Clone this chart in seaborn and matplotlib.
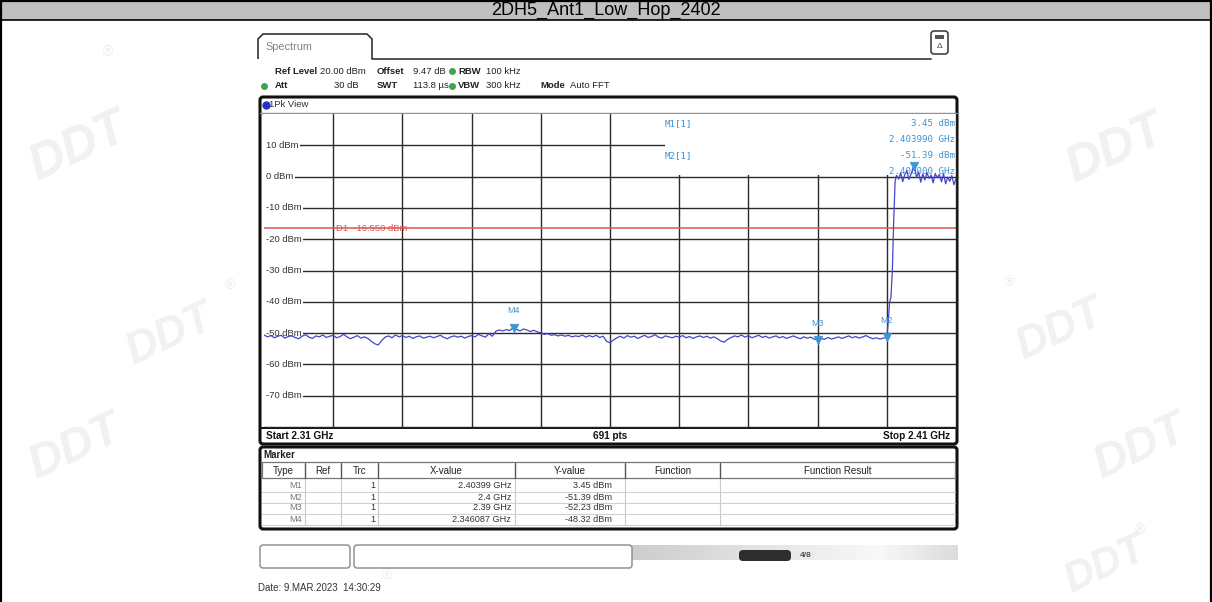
import numpy as np
import pandas as pd
import matplotlib
matplotlib.use("Agg")
import matplotlib.pyplot as plt
import seaborn as sns
from matplotlib import font_manager as fm
from matplotlib.patches import Rectangle, FancyBboxPatch, Polygon

# ---------------------------------------------------------------- data
title = "2DH5_Ant1_Low_Hop_2402"

start_ghz, stop_ghz = 2.31, 2.41
ref_level = 20.0
display_line = -16.55

# noise floor, 0.5 MHz steps from 2.3100 to 2.3995 GHz
floor_dbm = [
    -50.6, -51.2, -50.8, -51.5, -51.0, -50.7, -51.6, -51.1, -50.9, -51.4,
    -51.8, -51.0, -50.5, -51.3, -51.7, -50.9, -51.2, -50.6, -51.4, -51.0,
    -50.7, -51.5, -51.1, -50.4, -51.2, -51.8, -51.3, -50.8, -51.6, -51.2,
    -51.7, -52.6, -53.4, -53.8, -52.4, -51.3, -50.9, -51.5, -50.6, -51.2,
    -50.8, -51.4, -51.0, -51.7, -51.2, -50.9, -51.6, -51.3, -51.0, -51.5,
    -51.1, -50.7, -51.4, -51.8, -51.2, -50.9, -51.3, -51.0, -51.6, -51.1,
    -50.8, -51.2, -50.4, -50.9, -51.3, -50.2, -51.0, -49.4, -49.0, -49.3,
    -48.9, -49.2, -48.32, -48.8, -49.3, -48.7, -49.0, -49.5, -49.1, -49.6,
    -49.9, -50.4, -50.2, -50.7, -50.5, -50.9, -50.6, -51.0, -50.7, -51.2,
    -50.9, -51.1, -50.6, -51.3, -50.8, -51.2, -50.7, -51.4, -51.0, -52.6,
    -53.1, -52.2, -51.5, -51.0, -51.6, -50.8, -51.3, -51.0, -51.7, -51.2,
    -50.7, -51.4, -51.1, -50.5, -51.3, -51.6, -50.9, -51.2, -51.5, -51.0,
    -51.3, -50.8, -51.5, -51.1, -51.7, -51.2, -50.9, -51.4, -51.0, -51.6,
    -51.2, -51.8, -52.5, -52.9, -52.0, -51.4, -50.9, -51.2, -50.6, -51.3,
    -50.8, -51.5, -51.1, -50.7, -51.4, -51.0, -51.6, -51.2, -50.9, -51.5,
    -51.1, -51.7, -51.3, -50.9, -51.4, -51.8, -51.2, -51.6, -51.3, -51.9,
    -52.23, -51.7, -52.0, -51.4, -51.9, -51.6, -51.2, -51.7, -51.3, -50.9,
    -51.5, -51.1, -51.6, -51.2, -50.8, -51.4, -51.8, -51.5, -51.9, -51.6,
]
floor_step_ghz = 0.0005

# band edge and in-band part of the sweep
edge_ghz = [2.4000, 2.4002, 2.4004, 2.4006, 2.4008, 2.4010, 2.4012, 2.4014,
            2.4017, 2.4020, 2.4023, 2.4026, 2.4029, 2.4032, 2.4035, 2.4038,
            2.40399, 2.4043, 2.4046, 2.4049, 2.4052, 2.4055, 2.4058, 2.4061,
            2.4064, 2.4067, 2.4070, 2.4073, 2.4076, 2.4079, 2.4082, 2.4085,
            2.4088, 2.4091, 2.4094, 2.4097, 2.4100]
edge_dbm = [-51.39, -46.5, -40.2, -38.5, -30.0, -14.0, -1.5, 0.4,
            -0.8, 1.2, -1.6, 0.6, 1.9, -0.9, 0.8, 2.4,
            3.45, -0.3, 1.5, -1.8, 0.9, -1.1, 1.3, -0.6,
            0.5, -2.0, 1.0, -0.4, 0.7, -1.7, 0.9, -2.3,
            -0.2, -1.5, 0.3, -2.6, -0.7]

marker_names = ["M1", "M2", "M3", "M4"]
marker_ghz = [2.40399, 2.4, 2.39, 2.346087]
marker_dbm = [3.45, -51.39, -52.23, -48.32]
marker_x_text = ["2.40399 GHz", "2.4 GHz", "2.39 GHz", "2.346087 GHz"]

y_ticks = [10, 0, -10, -20, -30, -40, -50, -60, -70]
x_grid = [2.32, 2.33, 2.34, 2.35, 2.36, 2.37, 2.38, 2.39, 2.40]

table_headers = ["Type", "Ref", "Trc", "X-value", "Y-value", "Function", "Function Result"]

# ---------------------------------------------------------------- style
sns.set_theme(style="white")
names = {f.name for f in fm.fontManager.ttflist}
NARROW = "Liberation Sans Narrow" if "Liberation Sans Narrow" in names else "Liberation Sans"
plt.rcParams["font.family"] = ["Liberation Sans", "DejaVu Sans"]

TRACE = "#4545cc"
MARK = "#3a95d6"
GRID = "#2a2a2a"
RED = "#dd5555"
GREEN = "#3aa84a"

W, H = 1212, 602
fig = plt.figure(figsize=(W / 100, H / 100), dpi=100)
fig.patch.set_facecolor("white")

# full-figure pixel canvas for frames, panels and annotations
bg = fig.add_axes([0, 0, 1, 1])
bg.set_xlim(0, W)
bg.set_ylim(H, 0)
bg.axis("off")

# faint watermark logos
for (wx, wy, fs) in [(78, 148, 36), (1115, 150, 36), (170, 335, 32),
                     (1060, 330, 32), (75, 448, 34), (1140, 448, 34),
                     (1105, 565, 30)]:
    bg.text(wx, wy, "DDT", fontsize=fs, color="#f1f1f1", fontweight="bold",
            fontstyle="italic", rotation=25, ha="center", va="center", zorder=0)
for (rx, ry) in [(108, 52), (230, 285), (1010, 282), (1140, 530), (387, 575)]:
    bg.text(rx, ry, "\u00ae", fontsize=10, color="#ececec", ha="center", va="center", zorder=0)

# title band and outer border
bg.add_patch(Rectangle((0, 0), W, 20, facecolor="#c0c0c0", edgecolor="none", zorder=1))
bg.plot([0, W], [0.8, 0.8], color="black", lw=1.6, zorder=2)
bg.plot([0, W], [20, 20], color="black", lw=1.2, zorder=2)
bg.plot([0.8, 0.8], [0, H], color="black", lw=1.6, zorder=2)
bg.plot([W - 1, W - 1], [0, H], color="black", lw=1.6, zorder=2)
bg.text(W / 2, 15, title, fontsize=13, ha="center", va="baseline", color="black",
        family=["Liberation Sans", "DejaVu Sans"], zorder=3)

# instrument tab and header
tab = Polygon([(258, 59), (258, 39), (263, 34), (367, 34), (372, 39), (372, 59)],
              closed=False, fill=False, edgecolor="#333333", lw=1.2, zorder=2)
bg.add_patch(tab)
bg.plot([372, 931], [59, 59], color="#333333", lw=1.2, zorder=2)
bg.text(265, 47, "Spectrum", fontsize=7.8, color="#808080", va="center", zorder=3)
bg.add_patch(FancyBboxPatch((931, 31), 17, 23, boxstyle="round,pad=0,rounding_size=3",
                            facecolor="white", edgecolor="#333333", lw=1.1, zorder=2))
bg.add_patch(Rectangle((935, 35), 9, 4, facecolor="#555555", edgecolor="none", zorder=3))
bg.text(939.5, 46, "\u0394", fontsize=6, ha="center", va="center", color="#444444", zorder=3)

hdr = dict(fontsize=6.8, va="center", zorder=3, color="#222222")
bg.text(275, 71, "Ref Level", fontweight="bold", **hdr)
bg.text(320, 71, "20.00 dBm", **hdr)
bg.text(377, 71, "Offset", fontweight="bold", **hdr)
bg.text(413, 71, "9.47 dB", **hdr)
bg.text(458, 71, "RBW", fontweight="bold", **hdr)
bg.text(486, 71, "100 kHz", **hdr)
bg.text(275, 86, "Att", fontweight="bold", **hdr)
bg.text(359, 86, "30 dB", ha="right", **hdr)
bg.text(377, 86, "SWT", fontweight="bold", **hdr)
bg.text(413, 86, "113.8 \u00b5s", **hdr)
bg.text(458, 86, "VBW", fontweight="bold", **hdr)
bg.text(486, 86, "300 kHz", **hdr)
bg.text(540, 86, "Mode", fontweight="bold", **hdr)
bg.text(570, 86, "Auto FFT", **hdr)
for (gx, gy) in [(452, 71), (264, 86), (452, 86)]:
    bg.plot(gx, gy, "o", ms=4, color=GREEN, zorder=3)

# plot panel frame, view bar and footer row
bg.add_patch(FancyBboxPatch((260, 97), 697, 347, boxstyle="round,pad=0,rounding_size=3",
                            facecolor="white", edgecolor="#111111", lw=2.2, zorder=1))
bg.plot([260, 957], [113, 113], color="#909090", lw=1.0, zorder=2)
bg.plot(265.5, 104.5, "o", ms=5, color="#2233cc", zorder=3)
bg.text(269, 104.5, "1Pk View", fontsize=6.8, va="center", color="#333333", zorder=3)
bg.plot([260, 957], [428, 428], color="#111111", lw=1.4, zorder=2)
foot = dict(fontsize=7.2, fontweight="bold", va="center", color="#111111", zorder=3)
bg.text(266, 436, "Start 2.31 GHz", **foot)
bg.text(610, 436, "691 pts", ha="center", **foot)
bg.text(950, 436, "Stop 2.41 GHz", ha="right", **foot)

# marker table panel
bg.add_patch(FancyBboxPatch((260, 447), 697, 82, boxstyle="round,pad=0,rounding_size=3",
                            facecolor="white", edgecolor="#111111", lw=2.2, zorder=1))
bg.text(263, 455, "Marker", fontsize=7, fontweight="bold", va="center", color="#222222", zorder=3)
col_edges = [262, 305, 341, 378, 515, 625, 720, 955]
bg.add_patch(Rectangle((262, 462), 693, 16, facecolor="white", edgecolor="#777777", lw=0.9, zorder=2))
for cx in col_edges[1:-1]:
    bg.plot([cx, cx], [463, 478], color="#555555", lw=1.0, zorder=3)
    bg.plot([cx, cx], [478, 525], color="#c8c8c8", lw=0.8, zorder=2)
for i, h in enumerate(table_headers):
    bg.text((col_edges[i] + col_edges[i + 1]) / 2, 470.5, h, fontsize=7, ha="center",
            va="center", color="#222222", zorder=3)
row_y = [486, 497, 508, 519]
for ry in row_y:
    bg.plot([262, 955], [ry + 5.5, ry + 5.5], color="#d0d0d0", lw=0.8, zorder=2)
cell = dict(fontsize=6.6, va="center", color="#333333", zorder=3)
for ry, nm, xt, yv in zip(row_y, marker_names, marker_x_text, marker_dbm):
    bg.text(302, ry, nm, ha="right", **{**cell, "color": "#777777"})
    bg.text(375, ry, "1", ha="right", **cell)
    bg.text(511, ry, xt, ha="right", **cell)
    bg.text(612, ry, f"{yv:.2f} dBm", ha="right", **cell)

# status bar
bg.add_patch(FancyBboxPatch((260, 545), 90, 23, boxstyle="round,pad=0,rounding_size=3",
                            facecolor="white", edgecolor="#888888", lw=1.0, zorder=2))
bg.add_patch(FancyBboxPatch((354, 545), 278, 23, boxstyle="round,pad=0,rounding_size=3",
                            facecolor="white", edgecolor="#888888", lw=1.0, zorder=2))
grad = np.concatenate([np.linspace(0.80, 0.97, 48), np.linspace(0.97, 0.86, 16)])[None, :]
bg.imshow(np.repeat(grad, 2, axis=0), cmap="gray", vmin=0, vmax=1, aspect="auto",
          extent=(632, 958, 560, 545), zorder=1)
bg.add_patch(FancyBboxPatch((739, 550), 52, 11, boxstyle="round,pad=0,rounding_size=4",
                            facecolor="#2e2e2e", edgecolor="none", zorder=3))
bg.text(800, 555.5, "4/8", fontsize=6, fontweight="bold", color="#555555", va="center", zorder=3)
bg.set_xlim(0, W)
bg.set_ylim(H, 0)

bg.text(258, 588, "Date: 9.MAR.2023  14:30:29", fontsize=7, va="center",
        color="#333333", family=[NARROW, "DejaVu Sans"], zorder=3)

# ---------------------------------------------------------------- trace axes
x0, x1, ytop, ybot = 264, 956, 114, 427
ax = fig.add_axes([x0 / W, 1 - ybot / H, (x1 - x0) / W, (ybot - ytop) / H])
ax.set_xlim(start_ghz, stop_ghz)
ax.set_ylim(-80, ref_level)
ax.set_facecolor("white")
for s in ax.spines.values():
    s.set_color("#222222")
    s.set_linewidth(1.0)
ax.spines["top"].set_visible(False)
ax.spines["left"].set_visible(False)
ax.set_xticks([])
ax.set_yticks([])


def fx(px):
    return start_ghz + (px - x0) / (x1 - x0) * (stop_ghz - start_ghz)


px_per_db = (ybot - ytop) / 100.0


def fy(py):
    return ref_level - (py - ytop) / px_per_db


for g in x_grid:
    ax.axvline(g, color=GRID, lw=1.0, zorder=1)
for t in y_ticks:
    ax.axhline(t, xmin=3 / (x1 - x0), color=GRID, lw=1.0, zorder=1)

# marker readout box in the upper right
ax.add_patch(Rectangle((fx(665), 0.4), stop_ghz - fx(665), ref_level, facecolor="white",
                       edgecolor="none", zorder=1.5))

ax.axhline(display_line, color=RED, lw=1.1, zorder=2)
ax.text(fx(336), display_line, "D1  -16.550 dBm", fontsize=6.8, color=RED, va="center",
        ha="left", zorder=2.2)

for t in y_ticks:
    ax.text(fx(266), t, f"{t} dBm", fontsize=6.8, color="#333333", va="center", ha="left",
            zorder=2.1, bbox=dict(facecolor="white", edgecolor="none", pad=1.2))

mono = dict(family=["DejaVu Sans Mono"], fontsize=6.6, color=MARK, zorder=2.3)
ax.text(fx(665), fy(124), "M1[1]", va="center", ha="left", **mono)
ax.text(stop_ghz - 0.0001, fy(124), f"{marker_dbm[0]:.2f} dBm", va="center", ha="right", **mono)
ax.text(stop_ghz - 0.0001, fy(140), f"{marker_ghz[0]:.6f} GHz", va="center", ha="right", **mono)
ax.text(fx(665), fy(156), "M2[1]", va="center", ha="left", **mono)
ax.text(stop_ghz - 0.0001, fy(156), f"{marker_dbm[1]:.2f} dBm", va="center", ha="right", **mono)
ax.text(stop_ghz - 0.0001, fy(172), f"{marker_ghz[1]:.6f} GHz", va="center", ha="right", **mono)

floor_ghz = start_ghz + floor_step_ghz * np.arange(len(floor_dbm))
trace = pd.DataFrame({
    "freq": np.concatenate([floor_ghz, edge_ghz]),
    "level": np.concatenate([floor_dbm, edge_dbm]),
})
sns.lineplot(data=trace, x="freq", y="level", ax=ax, color=TRACE, lw=0.9,
             sort=False, estimator=None, zorder=3)
ax.set_xlabel("")
ax.set_ylabel("")

# marker symbols and their names
mk = pd.DataFrame({"freq": marker_ghz, "level": marker_dbm, "name": marker_names})
sns.scatterplot(data=mk, x="freq", y="level", ax=ax, marker="v", s=38, color=MARK,
                edgecolor=MARK, zorder=4, legend=False)
for nm, f, v in zip(marker_names[1:], marker_ghz[1:], marker_dbm[1:]):
    ax.annotate(nm, (f, v), xytext=(0, 9), textcoords="offset points", ha="center",
                va="bottom", fontsize=6.4, color=MARK, zorder=4)
ax.set_xlim(start_ghz, stop_ghz)
ax.set_ylim(-80, ref_level)

fig.savefig("out.png", dpi=100, facecolor="white")
